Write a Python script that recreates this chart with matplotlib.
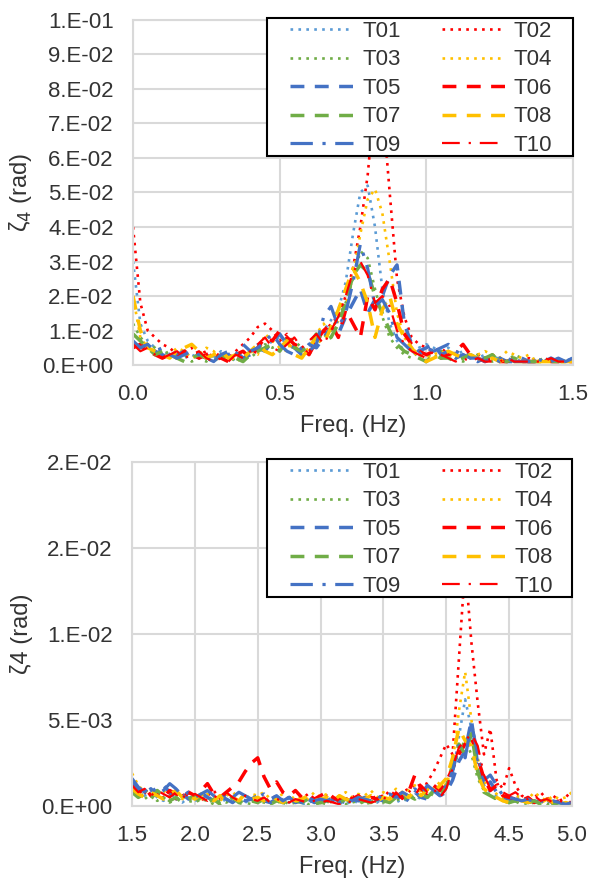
import numpy as np
import matplotlib
matplotlib.use('Agg')
import matplotlib.pyplot as plt
from matplotlib.patches import Rectangle

plt.rcParams['font.family'] = ['Liberation Sans', 'DejaVu Sans']

# Series names and look
names = ['T01', 'T02', 'T03', 'T04', 'T05', 'T06', 'T07', 'T08', 'T09', 'T10']
colors = ['#5B9BD5', '#FF0000', '#70AD47', '#FFC000', '#4472C4',
          '#FF0000', '#70AD47', '#FFC000', '#4472C4', '#FF0000']
dot = (0, (1, 2))
dash = (0, (4, 3))
dashdot = (0, (7, 3, 1, 3))
styles = [dot, dot, dot, dot, dash, dash, dash, dash, dashdot, (0, (8, 4, 1, 4))]
widths = [1.9, 1.9, 1.9, 1.9, 2.5, 2.5, 2.5, 2.5, 2.3, 1.6]

# Top panel: 0 - 1.5 Hz, amplitude in 1e-3 rad
freq_lo = np.arange(61) * 0.025
lo_T01 = [30, 12, 7, 5, 4, 3, 4, 2, 3, 2,
          3, 2, 4, 3, 1, 3, 4, 6, 5, 7,
          8, 6, 5, 4, 6, 8, 10, 13, 16, 24,
          38, 50, 52, 40, 22, 12, 7, 4, 3, 5,
          6, 5, 4, 5, 3, 4, 3, 2, 3, 2,
          2, 1, 2, 1, 1, 2, 1, 1, 2, 1, 1]
lo_T02 = [40, 18, 10, 8, 6, 5, 3, 4, 5, 3,
          4, 2, 3, 2, 4, 6, 8, 11, 12, 10,
          7, 9, 6, 5, 4, 7, 9, 12, 14, 20,
          28, 40, 55, 78, 76, 50, 25, 14, 8, 6,
          5, 4, 5, 3, 4, 3, 2, 3, 2, 3,
          2, 1, 2, 1, 2, 1, 1, 2, 1, 1, 1]
lo_T03 = [12, 8, 6, 5, 3, 4, 2, 3, 1, 2,
          1, 3, 2, 1, 2, 3, 2, 4, 6, 5,
          6, 8, 7, 5, 3, 6, 8, 10, 14, 18,
          25, 33, 31, 22, 14, 8, 5, 3, 2, 4,
          3, 2, 4, 3, 2, 1, 2, 3, 2, 1,
          2, 1, 3, 2, 1, 1, 2, 1, 1, 1, 1]
lo_T04 = [20, 8, 5, 4, 2, 3, 5, 4, 2, 3,
          5, 4, 2, 3, 1, 2, 4, 3, 9, 7,
          5, 4, 6, 3, 5, 9, 12, 8, 13, 17,
          26, 38, 48, 51, 44, 30, 15, 8, 5, 3,
          2, 3, 4, 3, 2, 3, 2, 3, 4, 3,
          2, 4, 3, 2, 3, 1, 2, 1, 1, 1, 1]
lo_T05 = [6, 5, 6, 4, 3, 2, 3, 4, 2, 3,
          2, 3, 2, 3, 4, 2, 3, 5, 4, 7,
          9, 6, 5, 3, 6, 5, 8, 11, 9, 14,
          18, 22, 15, 19, 20, 26, 29, 12, 6, 4,
          5, 6, 3, 4, 2, 3, 2, 1, 2, 1,
          2, 1, 1, 2, 1, 1, 1, 2, 1, 1, 2]
lo_T06 = [5, 6, 4, 3, 2, 3, 2, 4, 3, 2,
          3, 4, 2, 1, 3, 4, 2, 5, 8, 7,
          10, 8, 6, 5, 3, 7, 10, 12, 8, 16,
          12, 8, 20, 16, 22, 25, 18, 9, 6, 4,
          3, 4, 2, 3, 4, 6, 3, 2, 1, 2,
          1, 1, 2, 1, 1, 1, 2, 1, 1, 1, 1]
lo_T07 = [9, 7, 5, 3, 4, 3, 2, 1, 2, 3,
          2, 1, 3, 2, 2, 1, 3, 4, 5, 6,
          4, 7, 5, 4, 6, 9, 7, 8, 12, 18,
          26, 29, 27, 20, 15, 10, 6, 4, 3, 2,
          1, 3, 2, 2, 1, 2, 3, 2, 2, 3,
          1, 1, 2, 1, 1, 1, 1, 1, 1, 1, 1]
lo_T08 = [20, 10, 5, 4, 3, 2, 4, 5, 6, 4,
          2, 3, 4, 2, 3, 2, 4, 6, 4, 3,
          5, 7, 3, 2, 5, 8, 6, 11, 16, 22,
          28, 24, 18, 8, 16, 20, 12, 8, 5, 2,
          1, 2, 3, 4, 3, 2, 3, 2, 1, 2,
          1, 2, 1, 1, 1, 1, 1, 1, 1, 1, 1]
lo_T09 = [7, 5, 6, 4, 5, 3, 2, 3, 4, 3,
          2, 1, 3, 4, 3, 6, 4, 5, 7, 9,
          6, 4, 3, 5, 4, 6, 14, 17, 11, 15,
          24, 35, 28, 17, 19, 15, 8, 6, 4, 3,
          5, 4, 5, 6, 4, 3, 2, 2, 1, 2,
          1, 2, 1, 1, 1, 2, 1, 1, 2, 1, 2]
lo_T10 = [6, 4, 5, 3, 2, 3, 4, 2, 3, 4,
          2, 1, 2, 1, 3, 2, 4, 6, 8, 5,
          4, 6, 8, 5, 7, 9, 6, 10, 14, 20,
          27, 30, 26, 18, 20, 17, 10, 6, 4, 3,
          2, 4, 3, 2, 1, 2, 1, 2, 1, 1,
          1, 2, 1, 1, 1, 1, 1, 2, 1, 1, 1]

# Bottom panel: 1.5 - 5.0 Hz, amplitude in 1e-4 rad
freq_hi = 1.5 + np.arange(71) * 0.05
hi_T01 = [12, 8, 6, 9, 5, 3, 6, 4, 2, 5,
          3, 4, 6, 3, 2, 4, 5, 3, 2, 4,
          3, 5, 2, 3, 4, 2, 3, 1, 2, 3,
          2, 4, 3, 2, 1, 3, 2, 4, 3, 2,
          5, 3, 2, 4, 3, 6, 4, 5, 8, 6,
          10, 18, 40, 62, 45, 22, 12, 8, 6, 4,
          3, 5, 4, 3, 2, 2, 3, 2, 1, 2, 1]
hi_T02 = [14, 10, 8, 6, 9, 5, 7, 4, 6, 8,
          5, 3, 6, 9, 4, 7, 5, 3, 6, 4,
          5, 3, 4, 6, 3, 5, 2, 4, 7, 3,
          4, 6, 3, 5, 4, 6, 3, 5, 4, 6,
          5, 9, 6, 8, 10, 12, 7, 14, 20, 28,
          36, 30, 85, 140, 95, 60, 30, 45, 15, 10,
          22, 12, 6, 4, 5, 8, 4, 6, 3, 5, 9]
hi_T03 = [9, 6, 4, 7, 3, 5, 2, 4, 6, 3,
          2, 4, 3, 1, 3, 2, 4, 3, 2, 1,
          3, 2, 1, 2, 3, 1, 2, 3, 1, 2,
          2, 1, 3, 2, 1, 2, 3, 1, 2, 3,
          2, 4, 3, 5, 4, 7, 5, 8, 6, 9,
          12, 20, 32, 38, 30, 16, 9, 6, 4, 3,
          2, 3, 2, 1, 2, 3, 1, 2, 1, 1, 2]
hi_T04 = [19, 12, 8, 10, 6, 9, 5, 7, 4, 8,
          6, 4, 7, 5, 3, 6, 8, 5, 4, 7,
          6, 8, 4, 5, 7, 3, 6, 5, 4, 8,
          5, 7, 4, 6, 8, 5, 7, 6, 9, 5,
          8, 6, 10, 7, 9, 12, 8, 11, 10, 14,
          12, 25, 55, 78, 50, 28, 14, 10, 7, 5,
          4, 6, 5, 4, 8, 5, 3, 6, 4, 5, 8]
hi_T05 = [14, 9, 7, 10, 6, 12, 8, 5, 7, 4,
          6, 8, 5, 3, 6, 4, 2, 5, 3, 4,
          6, 3, 2, 4, 3, 5, 2, 3, 4, 2,
          3, 2, 4, 3, 2, 4, 3, 5, 2, 4,
          3, 5, 4, 6, 3, 8, 5, 4, 9, 6,
          8, 15, 26, 32, 50, 24, 10, 14, 8, 5,
          4, 3, 5, 2, 3, 2, 3, 2, 2, 1, 2]
hi_T06 = [10, 7, 11, 6, 8, 5, 9, 7, 4, 8,
          6, 9, 13, 7, 5, 8, 11, 14, 20, 25,
          28, 17, 10, 14, 8, 6, 9, 5, 7, 4,
          6, 8, 5, 3, 7, 4, 6, 3, 5, 4,
          6, 4, 7, 5, 8, 18, 10, 7, 12, 9,
          14, 22, 30, 36, 40, 28, 16, 9, 12, 6,
          5, 4, 3, 5, 2, 3, 4, 2, 3, 2, 2]
hi_T07 = [8, 5, 7, 4, 9, 6, 3, 5, 2, 4,
          6, 3, 2, 4, 1, 3, 5, 2, 1, 3,
          2, 4, 1, 3, 2, 1, 3, 2, 4, 1,
          2, 3, 1, 2, 4, 2, 1, 3, 2, 4,
          3, 2, 5, 3, 6, 4, 7, 5, 9, 6,
          11, 24, 36, 30, 42, 20, 8, 6, 4, 3,
          2, 3, 1, 2, 3, 1, 2, 1, 2, 1, 1]
hi_T08 = [10, 7, 5, 8, 6, 4, 7, 9, 5, 6,
          4, 7, 5, 3, 6, 4, 5, 3, 7, 4,
          5, 3, 6, 4, 2, 5, 3, 4, 6, 3,
          4, 5, 3, 6, 4, 3, 5, 4, 6, 3,
          5, 4, 6, 8, 5, 9, 6, 10, 8, 12,
          16, 28, 45, 38, 35, 18, 10, 7, 5, 3,
          2, 4, 3, 2, 3, 2, 4, 2, 1, 2, 1]
hi_T09 = [16, 11, 8, 12, 7, 9, 13, 10, 6, 8,
          5, 7, 9, 6, 4, 7, 5, 8, 6, 4,
          5, 7, 4, 6, 3, 5, 4, 2, 5, 3,
          4, 3, 5, 2, 4, 3, 5, 4, 3, 6,
          4, 7, 5, 8, 6, 10, 7, 12, 9, 6,
          12, 20, 35, 28, 48, 30, 15, 18, 12, 6,
          5, 4, 3, 4, 2, 3, 2, 3, 2, 1, 2]
hi_T10 = [12, 8, 10, 6, 9, 7, 5, 8, 6, 4,
          7, 5, 3, 6, 4, 8, 5, 3, 6, 4,
          3, 5, 2, 4, 3, 2, 4, 3, 2, 3,
          2, 3, 2, 1, 3, 2, 4, 3, 2, 3,
          5, 3, 8, 4, 9, 6, 12, 8, 10, 5,
          10, 22, 34, 38, 42, 35, 18, 10, 14, 8,
          6, 8, 5, 4, 6, 3, 4, 2, 3, 2, 2]

lo_series = [lo_T01, lo_T02, lo_T03, lo_T04, lo_T05, lo_T06, lo_T07, lo_T08, lo_T09, lo_T10]
hi_series = [hi_T01, hi_T02, hi_T03, hi_T04, hi_T05, hi_T06, hi_T07, hi_T08, hi_T09, hi_T10]

lo_yticks = [0, 0.01, 0.02, 0.03, 0.04, 0.05, 0.06, 0.07, 0.08, 0.09, 0.1]
lo_ylabels = ['0.E+00', '1.E-02', '2.E-02', '3.E-02', '4.E-02', '5.E-02',
              '6.E-02', '7.E-02', '8.E-02', '9.E-02', '1.E-01']
lo_xticks = [0.0, 0.5, 1.0, 1.5]
hi_yticks = [0, 0.005, 0.01, 0.015, 0.02]
hi_ylabels = ['0.E+00', '5.E-03', '1.E-02', '2.E-02', '2.E-02']
hi_xticks = [1.5, 2.0, 2.5, 3.0, 3.5, 4.0, 4.5, 5.0]

grid_col = '#D9D9D9'
text_col = '#333333'


def draw_panel(ax, freq, series, scale, xlim, ylim, xticks, yticks, ylabels, ylab, frame):
    lines = []
    for vals, name, c, ls, lw in zip(series, names, colors, styles, widths):
        ln, = ax.plot(freq, np.array(vals) * scale, color=c, linestyle=ls,
                      linewidth=lw, label=name)
        lines.append(ln)
    ax.set_xlim(*xlim)
    ax.set_ylim(*ylim)
    ax.set_xticks(xticks)
    ax.set_xticklabels(['%.1f' % t for t in xticks])
    ax.set_yticks(yticks)
    ax.set_yticklabels(ylabels)
    ax.grid(True, color=grid_col, linewidth=1.5)
    ax.set_axisbelow(True)
    for s in ax.spines.values():
        s.set_color(grid_col)
        s.set_linewidth(1.5)
    ax.tick_params(length=0, labelsize=16, labelcolor=text_col)
    ax.tick_params(axis='y', pad=14)
    ax.tick_params(axis='x', pad=14)
    ax.set_xlabel('Freq. (Hz)', fontsize=17, color=text_col, labelpad=7)
    ax.set_ylabel(ylab, fontsize=17, color=text_col, labelpad=6)

    # legend box with black frame, rows filled left to right
    x0, y0, x1, y1 = frame
    ax.add_patch(Rectangle((x0, y0), x1 - x0, y1 - y0, transform=ax.transAxes,
                           facecolor='white', edgecolor='black', linewidth=1.5,
                           zorder=5, clip_on=False))
    order = [0, 2, 4, 6, 8, 1, 3, 5, 7, 9]
    leg = ax.legend([lines[i] for i in order], [names[i] for i in order],
                    ncol=2, loc='upper left', bbox_to_anchor=(x0 + 0.052, y1 - 0.008),
                    frameon=False, fontsize=16, handlelength=2.85, handletextpad=0.4,
                    columnspacing=1.85, labelspacing=0.34, borderpad=0, borderaxespad=0)
    for t in leg.get_texts():
        t.set_color(text_col)
    leg.set_zorder(6)


fig = plt.figure(figsize=(5.92, 8.8), dpi=100)
ax1 = fig.add_axes([0.2247, 0.5852, 0.7432, 0.3921])
ax2 = fig.add_axes([0.2230, 0.0841, 0.7432, 0.3909])

draw_panel(ax1, freq_lo, lo_series, 1e-3, (0, 1.5), (0, 0.1), lo_xticks,
           lo_yticks, lo_ylabels, 'ζ$_4$ (rad)', (0.3045, 0.6058, 1.0, 1.0058))
draw_panel(ax2, freq_hi, hi_series, 1e-4, (1.5, 5.0), (0, 0.02), hi_xticks,
           hi_yticks, hi_ylabels, 'ζ4 (rad)', (0.307, 0.6076, 1.0, 1.0087))

fig.savefig('out.png', dpi=100)
